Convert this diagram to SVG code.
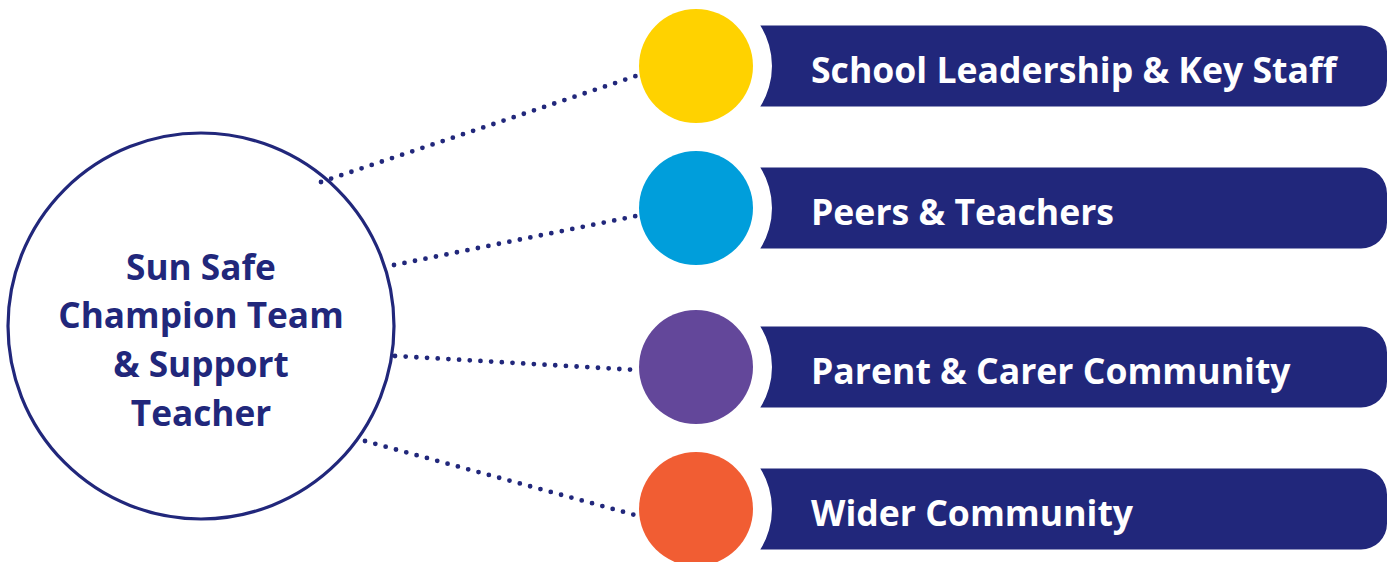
<svg xmlns="http://www.w3.org/2000/svg" width="1397" height="562" viewBox="0 0 1397 562">
<style>
.bar{fill:#21277b}
.lbl{font-family:"Open Sans","Liberation Sans",sans-serif;font-weight:700;font-size:35.6px;fill:#ffffff}
.ctr{font-family:"Open Sans","Liberation Sans",sans-serif;font-weight:700;font-size:35.2px;fill:#21277b;text-anchor:middle}
.dot{fill:none;stroke:#21277b;stroke-width:4.8;stroke-linecap:round;stroke-dasharray:0 10.7}
</style>
<rect width="1397" height="562" fill="#ffffff"/>
<g id="connectors">
<line class="dot" x1="321" y1="182" x2="636" y2="76"/>
<line class="dot" x1="394" y1="265" x2="636" y2="216"/>
<line class="dot" x1="395" y1="356" x2="637" y2="370"/>
<line class="dot" x1="365" y1="441" x2="635" y2="515"/>
</g>
<g id="center">
<circle cx="201" cy="326" r="193" fill="none" stroke="#21277b" stroke-width="3.2"/>
<text class="ctr" x="201" y="280">Sun Safe</text>
<text class="ctr" x="201" y="328">Champion Team</text>
<text class="ctr" x="201" y="377">&amp; Support</text>
<text class="ctr" x="201" y="426">Teacher</text>
</g>
<g id="n1">
<path class="bar" d="M760.3,25.5 A76,76 0 0 1 760.3,106.5 L1361,106.5 A26,26 0 0 0 1387,80.5 L1387,51.5 A26,26 0 0 0 1361,25.5 Z"/>
<circle cx="696" cy="66" r="57" fill="#ffd200"/>
<text class="lbl" x="811" y="83">School Leadership &amp; Key Staff</text>
</g>
<g id="n2">
<path class="bar" d="M760.3,167.5 A76,76 0 0 1 760.3,248.5 L1361,248.5 A26,26 0 0 0 1387,222.5 L1387,193.5 A26,26 0 0 0 1361,167.5 Z"/>
<circle cx="696" cy="208" r="57" fill="#009edb"/>
<text class="lbl" x="811" y="225">Peers &amp; Teachers</text>
</g>
<g id="n3">
<path class="bar" d="M760.3,326.5 A76,76 0 0 1 760.3,407.5 L1361,407.5 A26,26 0 0 0 1387,381.5 L1387,352.5 A26,26 0 0 0 1361,326.5 Z"/>
<circle cx="696" cy="367" r="57" fill="#63479a"/>
<text class="lbl" x="811" y="384">Parent &amp; Carer Community</text>
</g>
<g id="n4">
<path class="bar" d="M760.3,468.5 A76,76 0 0 1 760.3,549.5 L1361,549.5 A26,26 0 0 0 1387,523.5 L1387,494.5 A26,26 0 0 0 1361,468.5 Z"/>
<circle cx="696" cy="509" r="57" fill="#f15d33"/>
<text class="lbl" x="811" y="526">Wider Community</text>
</g>
</svg>
